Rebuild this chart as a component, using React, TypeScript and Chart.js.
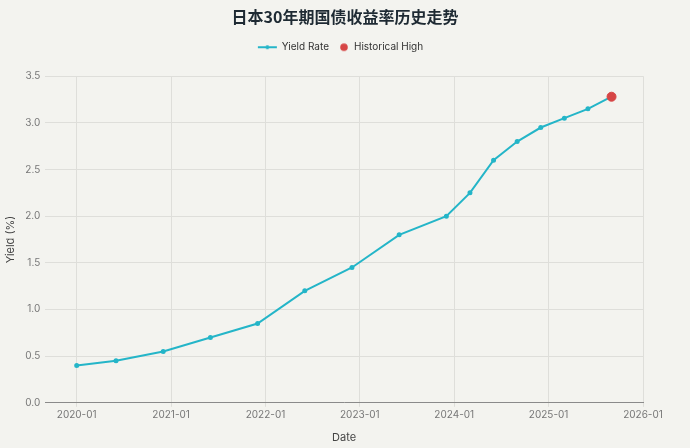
import React, { useEffect, useRef } from 'react';
import { Chart, registerables } from 'chart.js';

Chart.register(...registerables);

const dates = [
  '2020-01', '2020-06', '2020-12', '2021-06', '2021-12', '2022-06', '2022-12', '2023-06',
  '2023-12', '2024-03', '2024-06', '2024-09', '2024-12', '2025-03', '2025-06', '2025-09',
];
const yields = [0.4, 0.45, 0.55, 0.7, 0.85, 1.2, 1.45, 1.8, 2.0, 2.25, 2.6, 2.8, 2.95, 3.05, 3.15, 3.28];
const highDate = '2025-09';
const highYield = 3.28;
const xTickLabels = ['2020-01', '2021-01', '2022-01', '2023-01', '2024-01', '2025-01', '2026-01'];
const xStart = '2019-09';
const xEnd = '2026-01';

const TEAL = '#24B5C8';
const RED = '#D64545';
const FONT = 'Inter, "Noto Sans", sans-serif';

// "YYYY-MM" -> months since 2020-01
const toMonth = (s: string) => {
  const [y, m] = s.split('-').map(Number);
  return (y - 2020) * 12 + (m - 1);
};
const fromMonth = (v: number) => {
  const y = 2020 + Math.floor(v / 12);
  const m = ((v % 12) + 12) % 12 + 1;
  return `${y}-${String(m).padStart(2, '0')}`;
};

function lineIcon() {
  const c = document.createElement('canvas');
  c.width = 40;
  c.height = 8;
  const ctx = c.getContext('2d')!;
  ctx.strokeStyle = TEAL;
  ctx.lineWidth = 2;
  ctx.beginPath();
  ctx.moveTo(6, 4);
  ctx.lineTo(25, 4);
  ctx.stroke();
  ctx.fillStyle = TEAL;
  ctx.beginPath();
  ctx.arc(15.5, 4, 2, 0, Math.PI * 2);
  ctx.fill();
  return c;
}

function dotIcon() {
  const c = document.createElement('canvas');
  c.width = 10;
  c.height = 10;
  const ctx = c.getContext('2d')!;
  ctx.fillStyle = RED;
  ctx.beginPath();
  ctx.arc(5, 5, 3.8, 0, Math.PI * 2);
  ctx.fill();
  return c;
}

// push the plot area a little further below the legend
const legendMargin = {
  id: 'legendMargin',
  beforeInit(chart: any) {
    const legend = chart.legend;
    if (!legend) return;
    const fit = legend.fit;
    legend.fit = function () {
      fit.call(this);
      this.height += 14;
    };
  },
};

export default function App() {
  const canvasRef = useRef<HTMLCanvasElement>(null);

  useEffect(() => {
    if (!canvasRef.current) return;
    const icons = [lineIcon(), dotIcon()];

    const chart = new Chart(canvasRef.current, {
      type: 'line',
      data: {
        datasets: [
          {
            label: 'Yield Rate',
            data: dates.map((d, i) => ({ x: toMonth(d), y: yields[i] })),
            borderColor: TEAL,
            backgroundColor: TEAL,
            borderWidth: 2,
            pointRadius: 1.5,
            pointHoverRadius: 2,
            tension: 0,
            order: 2,
          },
          {
            label: 'Historical High',
            data: [{ x: toMonth(highDate), y: highYield }],
            borderColor: RED,
            backgroundColor: RED,
            showLine: false,
            pointRadius: 4.5,
            order: 1,
          },
        ],
      },
      options: {
        animation: false,
        responsive: true,
        maintainAspectRatio: false,
        layout: { padding: { top: 0, right: 0, bottom: 4, left: 0 } },
        plugins: {
          title: {
            display: true,
            text: '日本30年期国债收益率历史走势',
            color: '#1E2A33',
            font: { family: '"Noto Sans CJK SC", ' + FONT, size: 16, weight: 'bold' },
            padding: { top: 7, bottom: 6 },
          },
          legend: {
            display: true,
            position: 'top',
            labels: {
              usePointStyle: true,
              boxHeight: 10,
              padding: 10,
              color: '#333',
              font: { family: FONT, size: 10 },
              generateLabels: (ch: any) =>
                ch.data.datasets.map((ds: any, i: number) => ({
                  text: ds.label,
                  pointStyle: icons[i],
                  fillStyle: ds.backgroundColor,
                  strokeStyle: ds.borderColor,
                  lineWidth: 0,
                  hidden: false,
                  datasetIndex: i,
                  fontColor: '#333',
                })),
            },
          },
          tooltip: { enabled: false },
        },
        scales: {
          x: {
            type: 'linear',
            min: toMonth(xStart),
            max: toMonth(xEnd),
            afterBuildTicks: (axis: any) => {
              axis.ticks = xTickLabels.map((t) => ({ value: toMonth(t) }));
            },
            ticks: {
              color: '#777',
              font: { family: FONT, size: 10 },
              padding: 2,
              maxRotation: 0,
              callback: (v: any) => fromMonth(Number(v)),
            },
            grid: { color: '#DEDEDA', tickLength: 4 },
            border: { color: '#8A8A8A', width: 1 },
            title: {
              display: true,
              text: 'Date',
              color: '#444',
              font: { family: FONT, size: 11 },
              padding: { top: 8, bottom: 0 },
            },
          },
          y: {
            min: 0,
            max: 3.5,
            ticks: {
              stepSize: 0.5,
              color: '#777',
              font: { family: FONT, size: 10 },
              padding: 5,
              callback: (v: any) => Number(v).toFixed(1),
            },
            grid: { color: '#DEDEDA', drawTicks: false },
            border: { display: false },
            title: {
              display: true,
              text: 'Yield (%)',
              color: '#444',
              font: { family: FONT, size: 11 },
              padding: { top: 4, bottom: 3 },
            },
          },
          // empty right-hand axis, only reserves the right margin
          spacer: {
            type: 'linear',
            position: 'right',
            display: true,
            grid: { display: false },
            ticks: { display: false },
            border: { display: false },
            afterFit: (scale: any) => {
              scale.width = 47;
            },
          },
        },
      },
      plugins: [legendMargin],
    });

    return () => chart.destroy();
  }, []);

  return (
    <div
      style={{
        position: 'absolute',
        left: 0,
        top: 0,
        width: 690,
        height: 448,
        background: '#F3F3EF',
      }}
    >
      <canvas ref={canvasRef} />
    </div>
  );
}
